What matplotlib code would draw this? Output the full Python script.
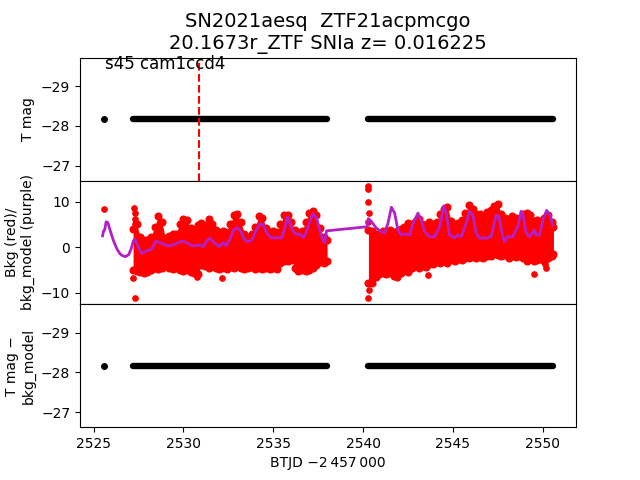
import numpy as np
import matplotlib
matplotlib.use("Agg")
import matplotlib.pyplot as plt

# ---------------- data ----------------
title_lines = ["SN2021aesq  ZTF21acpmcgo", "20.1673r_ZTF SNIa z= 0.016225"]
sector_text = "s45 cam1ccd4"
event_time = 2530.87
tmag_level = -28.17

iso_t = [2525.56]
iso_bkg = [8.4]

seg1_t = [2527.2, 2527.4, 2527.6, 2527.8, 2528.0, 2528.2, 2528.4, 2528.6, 2528.8, 2529.0,
          2529.2, 2529.4, 2529.6, 2529.8, 2530.0, 2530.2, 2530.4, 2530.6, 2530.8, 2531.0,
          2531.2, 2531.4, 2531.6, 2531.8, 2532.0, 2532.2, 2532.4, 2532.6, 2532.8, 2533.0,
          2533.2, 2533.4, 2533.6, 2533.8, 2534.0, 2534.2, 2534.4, 2534.6, 2534.8, 2535.0,
          2535.2, 2535.4, 2535.6, 2535.8, 2536.0, 2536.2, 2536.4, 2536.6, 2536.8, 2537.0,
          2537.2, 2537.4, 2537.6, 2537.8, 2538.0]
seg1_upper = [4.0, 5.0, 2.2, 1.5, 1.5, 2.2, 4.5, 6.8, 5.5, 2.0,
              2.5, 3.0, 3.0, 5.2, 6.3, 6.0, 4.3, 3.8, 4.8, 5.3,
              4.8, 6.3, 5.0, 3.8, 3.2, 3.5, 3.3, 5.0, 7.0, 7.3,
              5.5, 3.0, 2.3, 2.8, 4.5, 6.8, 6.5, 4.3, 3.3, 3.5,
              3.3, 5.0, 7.0, 7.0, 5.5, 3.8, 3.2, 3.5, 5.5, 7.5,
              8.0, 7.0, 4.2, 2.3, 1.5]
seg1_lower = [-5.0, -5.2, -5.5, -5.8, -5.5, -5.0, -4.6, -4.8, -4.5, -4.0,
              -4.5, -4.8, -4.6, -5.0, -5.2, -5.0, -5.4, -5.6, -6.0, -4.0,
              -4.2, -4.6, -4.2, -4.5, -4.8, -4.6, -4.8, -4.3, -4.5, -4.2,
              -4.5, -4.8, -4.6, -4.4, -4.8, -4.6, -4.8, -4.6, -4.8, -4.6,
              -4.8, -3.6, -3.0, -3.0, -2.8, -4.5, -5.2, -5.0, -5.2, -5.0,
              -4.5, -4.0, -3.3, -3.4, -3.0]

seg2_t = [2540.3, 2540.5, 2540.7, 2540.9, 2541.1, 2541.3, 2541.5, 2541.7, 2541.9, 2542.1,
          2542.3, 2542.5, 2542.7, 2542.9, 2543.1, 2543.3, 2543.5, 2543.7, 2543.9, 2544.1,
          2544.3, 2544.5, 2544.7, 2544.9, 2545.1, 2545.3, 2545.5, 2545.7, 2545.9, 2546.1,
          2546.3, 2546.5, 2546.7, 2546.9, 2547.1, 2547.3, 2547.5, 2547.7, 2547.9, 2548.1,
          2548.3, 2548.5, 2548.7, 2548.9, 2549.1, 2549.3, 2549.5, 2549.7, 2549.9, 2550.1,
          2550.3, 2550.5, 2550.6]
seg2_upper = [3.8, 3.5, 2.8, 3.0, 3.6, 3.5, 3.8, 3.3, 3.5, 4.0,
              4.5, 5.3, 5.0, 5.5, 6.3, 5.2, 4.8, 5.6, 5.2, 5.5,
              7.3, 8.5, 8.8, 5.8, 5.0, 5.3, 6.0, 7.5, 9.2, 8.5,
              7.3, 7.3, 6.8, 7.8, 8.2, 9.0, 9.6, 7.3, 6.5, 6.2,
              6.8, 6.5, 6.3, 7.3, 7.5, 7.0, 5.8, 6.0, 5.8, 6.5,
              7.0, 5.5, 4.5]
seg2_lower = [-8.0, -7.8, -6.5, -6.0, -5.6, -6.0, -5.6, -6.4, -6.6, -5.6,
              -5.0, -5.4, -4.6, -4.2, -4.5, -4.2, -4.4, -3.7, -3.8, -3.3,
              -3.5, -3.1, -3.4, -2.9, -3.0, -2.6, -2.8, -2.3, -2.5, -2.1,
              -2.4, -2.1, -2.4, -1.9, -2.0, -1.6, -1.8, -2.0, -1.7, -2.4,
              -1.9, -2.2, -2.0, -2.5, -3.0, -2.6, -3.0, -2.8, -2.6, -3.0,
              -2.5, -2.0, -1.6]

out_t = [2527.24, 2527.28, 2527.30, 2527.32, 2527.22, 2527.28, 2530.74, 2532.13,
         2540.28, 2540.30, 2540.30, 2540.32, 2540.30, 2540.32, 2540.30,
         2543.60, 2549.54, 2550.15, 2550.18]
out_v = [8.6, 7.5, 6.2, 5.0, -6.7, -11.3, -6.5, -6.8,
         13.4, 12.8, 10.0, 7.5, 5.5, -9.5, -11.3,
         -6.2, -6.0, -3.7, -4.6]

model_t = [2525.50, 2525.56, 2525.62, 2525.70, 2525.80, 2525.93, 2526.11, 2526.30, 2526.48, 2526.62,
           2526.76, 2526.95, 2527.09, 2527.22, 2527.30, 2527.46, 2527.69, 2527.96, 2528.24, 2528.48,
           2528.70, 2528.98, 2529.26, 2529.63, 2529.94, 2530.19, 2530.47, 2530.65, 2530.93, 2531.11,
           2531.30, 2531.48, 2531.70, 2532.00, 2532.22, 2532.37, 2532.60, 2532.78, 2532.97, 2533.19,
           2533.37, 2533.56, 2533.80, 2534.04, 2534.26, 2534.44, 2534.67, 2534.91, 2535.22, 2535.47,
           2535.65, 2535.80, 2536.02, 2536.20, 2536.48, 2536.67, 2536.80, 2536.98, 2537.22, 2537.41,
           2537.60, 2537.78, 2537.87, 2537.97, 2540.22, 2540.30, 2540.46, 2540.74, 2541.02, 2541.20,
           2541.39, 2541.58, 2541.76, 2541.94, 2542.13, 2542.40, 2542.60, 2542.78, 2543.06, 2543.24,
           2543.43, 2543.70, 2543.98, 2544.26, 2544.50, 2544.63, 2544.82, 2545.09, 2545.28, 2545.47,
           2545.74, 2545.93, 2546.11, 2546.30, 2546.48, 2546.86, 2547.13, 2547.26, 2547.41, 2547.56,
           2547.74, 2547.87, 2548.06, 2548.33, 2548.61, 2548.80, 2548.89, 2549.08, 2549.26, 2549.54,
           2549.63, 2549.82, 2550.04, 2550.22, 2550.41, 2550.56]
model_v = [2.5, 3.6, 3.8, 5.6, 5.4, 3.6, 1.4, -0.4, -1.5, -1.9,
           -2.1, -1.7, -0.4, 1.4, 1.8, 0.3, -1.4, -0.8, -0.4, 1.4,
           1.0, 0.5, 0.3, 0.8, 1.4, 1.0, 0.3, 0.3, 0.5, 0.1,
           1.4, 2.0, 1.0, 0.1, 1.0, 0.3, 1.8, 3.7, 4.3, 3.6,
           1.8, 1.2, 1.5, 3.6, 5.2, 4.9, 2.9, 2.0, 2.1, 2.0,
           4.3, 6.7, 4.3, 2.9, 2.9, 2.1, 2.9, 5.1, 7.4, 6.5,
           3.6, 1.4, 1.0, 3.6, 4.5, 6.3, 5.7, 4.2, 3.4, 3.1,
           5.3, 8.8, 7.5, 3.8, 2.7, 2.9, 2.7, 5.3, 7.5, 6.0,
           3.4, 2.3, 2.3, 4.5, 9.1, 7.5, 2.7, 2.0, 2.7, 2.3,
           5.3, 7.9, 7.1, 3.1, 2.0, 2.0, 2.3, 4.5, 7.1, 6.8,
           3.1, 1.2, 2.3, 2.3, 4.5, 7.9, 7.5, 3.1, 2.3, 3.8,
           2.7, 2.7, 6.4, 8.1, 7.1, 4.9]

# ---------------- plotting ----------------
fig, (ax1, ax2, ax3) = plt.subplots(3, 1, sharex=True, figsize=(6.4, 4.8), dpi=100)
fig.subplots_adjust(hspace=0)

for ax in (ax1, ax3):
    ax.plot(iso_t, [tmag_level] * len(iso_t), 'o', color='k', ms=4)
    for seg in (seg1_t, seg2_t):
        ax.plot(seg, [tmag_level] * len(seg), '-', color='k', lw=4.6,
                solid_capstyle='round')
    ax.invert_yaxis()
    ax.set_yticks([-29, -28, -27])

ax1.axvline(event_time, color='r', ls='--', lw=1.5)
ax1.text(0.05, 0.905, sector_text, transform=ax1.transAxes, fontsize=12, va='baseline')
ax1.set_ylabel("T mag")
ax1.set_title("\n".join(title_lines), fontsize=14)

red = '#ff0000'
ax2.fill_between(seg1_t, seg1_lower, seg1_upper, color=red, lw=0)
ax2.fill_between(seg2_t, seg2_lower, seg2_upper, color=red, lw=0)
for tt, up, lo in ((seg1_t, seg1_upper, seg1_lower), (seg2_t, seg2_upper, seg2_lower)):
    ax2.plot(tt, up, 'o', color=red, ms=4.8)
    ax2.plot(tt, lo, 'o', color=red, ms=4.8)
ax2.plot(out_t, out_v, 'o', color=red, ms=3.8)
ax2.plot(iso_t, iso_bkg, 'o', color=red, ms=3.8)
ax2.plot(model_t, model_v, '-', color='#b51fc8', lw=2.0)
ax2.set_ylabel("Bkg (red)/\nbkg_model (purple)")
ax2.set_yticks([-10, 0, 10])

ax3.set_ylabel("T mag \u2212\nbkg_model")
ax3.set_xlabel("BTJD \u22122\u2009457\u2009000")

for ax in (ax1, ax2):
    ax.tick_params(axis='x', bottom=False)

fig.savefig("out.png", dpi=100)
